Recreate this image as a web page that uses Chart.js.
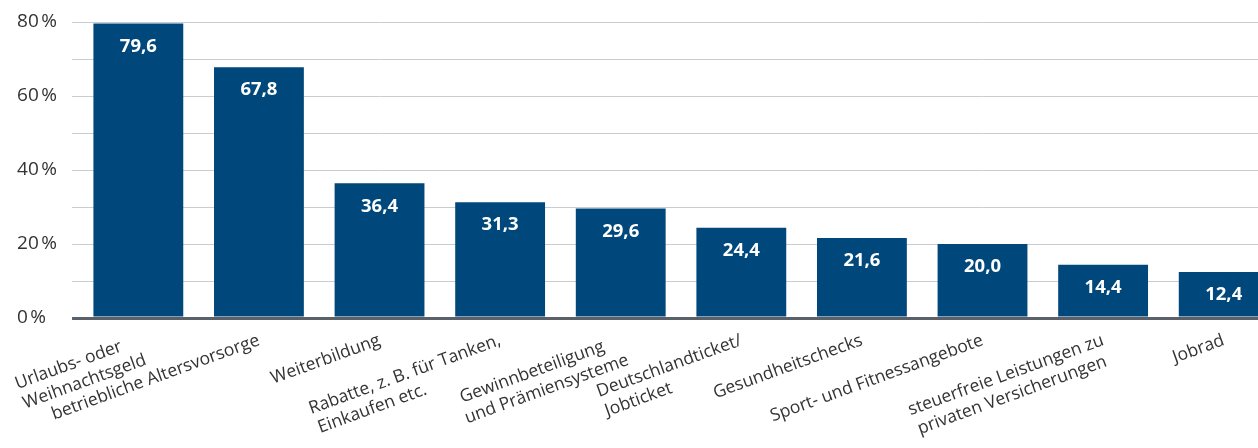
<!DOCTYPE html>
<html lang="de">
<head>
<meta charset="utf-8">
<script src="https://cdn.jsdelivr.net/npm/chart.js@4"></script>
<style>
    html, body { margin: 0; padding: 0; background: #fff; overflow: hidden; }
    #wrap { width: 1284px; height: 448px; }
</style>
</head>
<body>
<div id="wrap"><canvas id="benefitsChart"></canvas></div>
<script>
const categories = [
    ['Urlaubs- oder', 'Weihnachtsgeld'],
    'betriebliche Altersvorsorge',
    'Weiterbildung',
    ['Rabatte, z. B. für Tanken,', 'Einkaufen etc.'],
    ['Gewinnbeteiligung', 'und Prämiensysteme'],
    ['Deutschlandticket/', 'Jobticket'],
    'Gesundheitschecks',
    'Sport- und Fitnessangebote',
    ['steuerfreie Leistungen zu', 'privaten Versicherungen'],
    'Jobrad'
];
const shares = [79.6, 67.8, 36.4, 31.3, 29.6, 24.4, 21.6, 20.0, 14.4, 12.4];
const yLabelValues = [0, 20, 40, 60, 80];

const barColor = '#00487b';
const fontFamily = '"Open Sans", "Noto Sans", sans-serif';
const xFont = { family: fontFamily, size: 17.5 };

// mehrzeilige Beschriftungen links bündig: kürzere Zeilen mit Leerzeichen auffüllen
const measureCtx = document.createElement('canvas').getContext('2d');
measureCtx.font = `${xFont.size}px ${fontFamily}`;
const padLines = (label) => {
    if (!Array.isArray(label)) return label;
    const widths = label.map(l => measureCtx.measureText(l).width);
    const maxW = Math.max(...widths);
    return label.map(l => {
        let s = l;
        while (measureCtx.measureText(s + '\u00A0').width <= maxW + 1) s += '\u00A0';
        return s;
    });
};

// weiße Werte in den Balken
const valueLabels = {
    id: 'valueLabels',
    afterDatasetsDraw(chart) {
        const ctx = chart.ctx;
        const meta = chart.getDatasetMeta(0);
        ctx.save();
        ctx.fillStyle = '#ffffff';
        ctx.font = `bold 18.5px ${fontFamily}`;
        ctx.textAlign = 'center';
        ctx.textBaseline = 'middle';
        meta.data.forEach((bar, i) => {
            const txt = shares[i].toFixed(1).replace('.', ',');
            ctx.fillText(txt, bar.x, bar.y + 23);
        });
        ctx.restore();
    }
};

const ctx = document.getElementById('benefitsChart').getContext('2d');
new Chart(ctx, {
    type: 'bar',
    data: {
        labels: categories.map(padLines),
        datasets: [{
            data: shares,
            backgroundColor: barColor,
            borderWidth: 0,
            categoryPercentage: 1,
            barPercentage: 0.745
        }]
    },
    options: {
        responsive: true,
        maintainAspectRatio: false,
        animation: false,
        layout: { padding: { left: 15, top: 22, right: 0, bottom: 0 } },
        plugins: {
            legend: { display: false },
            tooltip: { enabled: false }
        },
        scales: {
            x: {
                grid: { display: false, drawTicks: false },
                border: { display: false },
                ticks: {
                    autoSkip: false,
                    minRotation: 20,
                    maxRotation: 20,
                    padding: 12,
                    color: '#333333',
                    font: xFont
                },
                afterFit(scale) { scale.height = 130; }
            },
            y: {
                min: 0,
                max: 80,
                border: { display: false },
                grid: {
                    drawTicks: true,
                    tickLength: 6,
                    color: c => (c.tick && c.tick.value === 0 ? '#5b6169' : '#c8ccd3'),
                    lineWidth: c => (c.tick && c.tick.value === 0 ? 3 : 1)
                },
                ticks: {
                    stepSize: 10,
                    crossAlign: 'far',
                    color: '#333333',
                    font: { family: fontFamily, size: 19 },
                    callback: v => (yLabelValues.includes(v) ? v + '\u202F%' : '')
                },
                afterFit(scale) { scale.width = 61; }
            }
        }
    },
    plugins: [valueLabels]
});
</script>
</body>
</html>
